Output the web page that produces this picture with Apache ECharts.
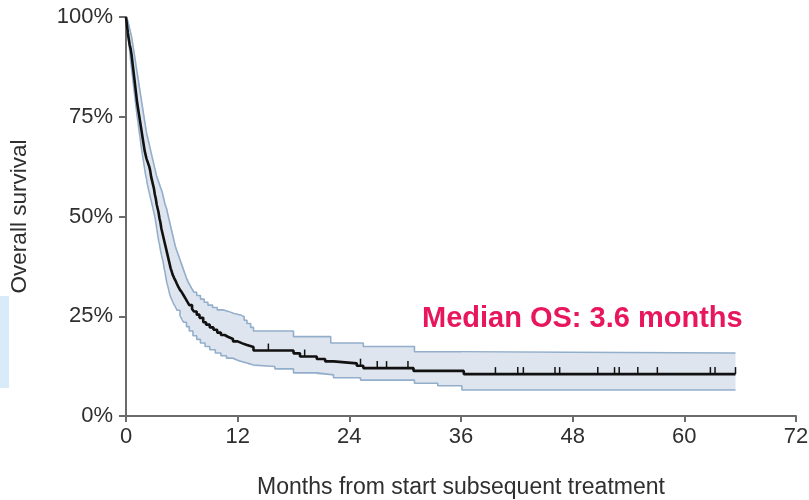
<!DOCTYPE html>
<html>
<head>
<meta charset="utf-8">
<script src="https://cdn.jsdelivr.net/npm/echarts@6/dist/echarts.min.js"></script>
<style>
  html, body { margin: 0; padding: 0; background: #ffffff; }
  #chart { width: 809px; height: 500px; }
</style>
</head>
<body>
<div id="chart"></div>
<script>
// Kaplan–Meier estimate: event times (months) and survival (%) after each step
const kmTimes = [0, 0.05, 0.1, 0.15, 0.2, 0.3, 0.4, 0.5, 0.6, 0.7, 0.8, 0.9, 1.0, 1.1, 1.2, 1.3, 1.4, 1.5, 1.6, 1.7,
  1.8, 1.9, 2.0, 2.1, 2.2, 2.35, 2.5, 2.6, 2.7, 2.8, 2.9, 3.0, 3.1, 3.2, 3.3, 3.4, 3.5, 3.6, 3.7, 3.8,
  3.9, 4.0, 4.1, 4.2, 4.3, 4.4, 4.5, 4.6, 4.7, 4.8, 4.9, 5.0, 5.15, 5.3, 5.45, 5.6, 5.8, 6.0, 6.2, 6.4,
  6.6, 6.8, 7.1, 7.3, 7.6, 7.9, 8.3, 8.6, 9.0, 9.4, 9.8, 10.2, 10.6, 11.0, 11.5, 12.0, 12.5, 13.0, 13.7, 18.0,
  18.7, 20.5, 21.4, 22.3, 24.8, 25.5, 30.9, 36.3, 65.5];
const kmSurv = [100, 99, 98, 97, 96, 94.5, 93, 92, 90.5, 88.5, 86.5, 84.5, 82.5, 80.5, 78.5, 77, 75.5, 74, 72.5, 71,
  69.5, 68, 66.5, 65.5, 64.5, 63.5, 62.5, 61.5, 60, 59, 58, 57, 55.5, 54.5, 53, 52, 51, 49.5, 48.5, 47,
  46, 45, 44, 43, 42, 41, 40, 39, 38, 37, 36.3, 35.5, 34.7, 34, 33.2, 32.5, 31.6, 31, 30.2, 29.4,
  28.6, 27.8, 26.8, 26.2, 25.4, 24.6, 23.5, 22.9, 22.2, 21.6, 20.9, 20.3, 19.8, 19.3, 18.7, 18.2, 17.8, 17.3, 16.4, 15.7,
  14.9, 14.3, 13.7, 13.2, 12.6, 12.0, 11.3, 10.5, 10.5];

// 95% confidence limits
const upperTimes = [0, 0.1, 0.2, 0.3, 0.4, 0.5, 0.6, 0.7, 0.8, 0.9, 1.0, 1.1, 1.2, 1.3, 1.4, 1.5, 1.6, 1.7, 1.8, 1.9,
  2.0, 2.1, 2.2, 2.3, 2.4, 2.5, 2.6, 2.7, 2.8, 2.9, 3.0, 3.1, 3.2, 3.3, 3.45, 3.6, 3.75, 3.9, 4.0, 4.1,
  4.2, 4.35, 4.5, 4.6, 4.7, 4.8, 4.9, 5.0, 5.1, 5.2, 5.3, 5.45, 5.6, 5.75, 5.9, 6.05, 6.2, 6.35, 6.5, 6.7,
  6.9, 7.1, 7.3, 7.6, 8.0, 8.4, 8.8, 9.3, 9.8, 10.4, 11.0, 11.6, 12.3, 12.7, 13.0, 13.4, 13.7, 18.0, 22.0, 25.5,
  31.0, 36.1, 65.5];
const upperSurv = [100, 99.5, 99, 98, 97, 96, 95, 93.5, 92, 90.5, 89, 87.5, 86, 84.5, 83, 81.5, 80, 78.5, 77, 75.5,
  74, 72.5, 71, 70, 69, 68, 67, 66, 65, 64, 63, 62, 61, 60, 59, 58, 57, 56, 55, 54,
  53, 52, 50.5, 49.5, 48.5, 47.5, 46.5, 45.5, 44.5, 43.5, 42.5, 41.5, 40.5, 39.5, 38.5, 37.5, 36.5, 35.5, 34.5, 33.5,
  32.6, 31.8, 31, 30.2, 29.3, 28.5, 27.8, 27.2, 26.6, 26.2, 25.7, 25.3, 24.9, 24, 23.2, 22.2, 21.3, 19.9, 18.3, 17.4,
  16.1, 15.8, 15.8];
const lowerTimes = [0, 0.05, 0.1, 0.2, 0.3, 0.4, 0.5, 0.6, 0.7, 0.8, 0.9, 1.0, 1.1, 1.2, 1.3, 1.4, 1.5, 1.6, 1.7, 1.8,
  1.9, 2.0, 2.1, 2.2, 2.3, 2.4, 2.5, 2.6, 2.7, 2.8, 2.9, 3.0, 3.1, 3.2, 3.3, 3.4, 3.5, 3.6, 3.7, 3.8,
  3.9, 4.0, 4.1, 4.2, 4.3, 4.4, 4.5, 4.6, 4.7, 4.8, 4.95, 5.1, 5.3, 5.5, 5.8, 6.0, 6.2, 6.5, 6.8, 7.2,
  7.6, 8.0, 8.5, 9.0, 9.6, 10.2, 10.8, 11.5, 12.0, 12.5, 13.1, 13.7, 16.0, 18.0, 20.5, 22.3, 25.2, 31.0, 33.5, 36.1,
  65.5];
const lowerSurv = [100, 98.5, 97.5, 95.5, 93.5, 91.5, 89, 87, 85, 83, 81, 79, 77, 75, 73.5, 71.5, 70, 68, 66.5, 65,
  63.5, 62, 60.5, 59.5, 58, 57, 56, 55, 54, 53, 52, 51, 50, 48.5, 47, 45.5, 44, 43, 41.6, 40.5,
  39.5, 38.5, 37, 36, 34.5, 33.3, 32.5, 31.5, 30.5, 29.8, 29, 28.2, 27.4, 26.5, 25.2, 24.3, 23.5, 22.4, 21.3, 20.1,
  19.2, 18.3, 17.4, 16.6, 15.8, 15.1, 14.5, 14, 13.6, 13.2, 12.8, 12.4, 11.8, 10.8, 10.3, 9.6, 9.0, 8.2, 7.6, 6.5,
  6.5];

// Censored observations (months)
const censorTimes = [15.3, 19.2, 25.2, 27.0, 28.0, 30.3, 39.7, 42.1, 42.7, 46.1, 46.6, 50.7, 52.5, 53.0, 55.0,
  57.1, 62.8, 63.3, 65.5];

const xTickLabels = ['0', '12', '24', '36', '48', '60', '72'];
const medianLabel = 'Median OS: 3.6 months';

const pairs = (ts, vs) => ts.map((t, i) => [t, vs[i]]);

// survival level in force at time t (right-continuous step function)
function survAt(t) {
  let s = kmSurv[0];
  for (let i = 0; i < kmTimes.length; i++) {
    if (kmTimes[i] <= t) s = kmSurv[i]; else break;
  }
  return s;
}

// vertices of a step curve drawn horizontally-then-vertically
function stepVertices(ts, vs) {
  const pts = [[ts[0], vs[0]]];
  for (let i = 1; i < ts.length; i++) {
    pts.push([ts[i], vs[i - 1]]);
    pts.push([ts[i], vs[i]]);
  }
  return pts;
}

const bandOutline = stepVertices(upperTimes, upperSurv)
  .concat(stepVertices(lowerTimes, lowerSurv).reverse());

const chart = echarts.init(document.getElementById('chart'), null, { renderer: 'canvas' });

const axisColor = '#6b6b6b';
const textColor = '#2f2f2f';
const fontFamily = '"Liberation Sans", Arial, sans-serif';

chart.setOption({
  animation: false,
  backgroundColor: '#ffffff',
  grid: { left: 126, right: 13, top: 17, bottom: 84, containLabel: false, outerBoundsMode: 'none' },
  xAxis: {
    type: 'value',
    min: 0,
    max: 72,
    interval: 12,
    name: 'Months from start subsequent treatment',
    nameLocation: 'middle',
    nameGap: 60,
    nameTextStyle: { fontSize: 23, color: textColor, fontFamily },
    axisLine: { lineStyle: { color: axisColor, width: 2 } },
    axisTick: { show: true, length: 6, lineStyle: { color: axisColor, width: 2 } },
    axisLabel: {
      margin: 10, fontSize: 22, color: textColor, fontFamily,
      formatter: (v) => xTickLabels[Math.round(v / 12)]
    },
    splitLine: { show: false }
  },
  yAxis: {
    type: 'value',
    min: 0,
    max: 100,
    interval: 25,
    name: 'Overall survival',
    nameLocation: 'middle',
    nameGap: 95,
    nameTextStyle: { fontSize: 22.5, color: textColor, fontFamily },
    axisLine: { show: true, lineStyle: { color: axisColor, width: 2 } },
    axisTick: { show: true, length: 7, lineStyle: { color: axisColor, width: 2 } },
    axisLabel: { margin: 13, fontSize: 22, color: textColor, fontFamily, formatter: '{value}%' },
    splitLine: { show: false }
  },
  graphic: [
    {
      type: 'rect',
      left: 0, top: 296,
      shape: { width: 9, height: 92 },
      style: { fill: '#d8ebf9' },
      silent: true
    },
    {
      type: 'text',
      left: 422, top: 304,
      style: {
        text: medianLabel,
        fill: '#e8175d',
        font: 'bold 29px "Liberation Sans", Arial, sans-serif'
      },
      silent: true
    }
  ],
  series: [
    {
      // shaded confidence band
      type: 'custom',
      silent: true,
      z: 1,
      data: [[0, 0]],
      renderItem: (params, api) => ({
        type: 'polygon',
        shape: { points: bandOutline.map((p) => api.coord(p)) },
        style: { fill: '#dfe5ee', stroke: null }
      })
    },
    {
      type: 'line', step: 'end', symbol: 'none', silent: true, z: 2,
      data: pairs(upperTimes, upperSurv),
      lineStyle: { color: '#93aecb', width: 1.6 }
    },
    {
      type: 'line', step: 'end', symbol: 'none', silent: true, z: 2,
      data: pairs(lowerTimes, lowerSurv),
      lineStyle: { color: '#93aecb', width: 1.6 }
    },
    {
      type: 'line', step: 'end', symbol: 'none', silent: true, z: 3,
      data: pairs(kmTimes, kmSurv),
      lineStyle: { color: '#111111', width: 2.6 }
    },
    {
      // censor marks sitting on the survival curve
      type: 'custom',
      silent: true,
      z: 4,
      data: censorTimes.map((t) => [t, survAt(t)]),
      renderItem: (params, api) => {
        const p = api.coord([api.value(0), api.value(1)]);
        return {
          type: 'line',
          shape: { x1: p[0], y1: p[1], x2: p[0], y2: p[1] - 7 },
          style: { stroke: '#111111', lineWidth: 1.5 }
        };
      }
    }
  ]
});
</script>
</body>
</html>
